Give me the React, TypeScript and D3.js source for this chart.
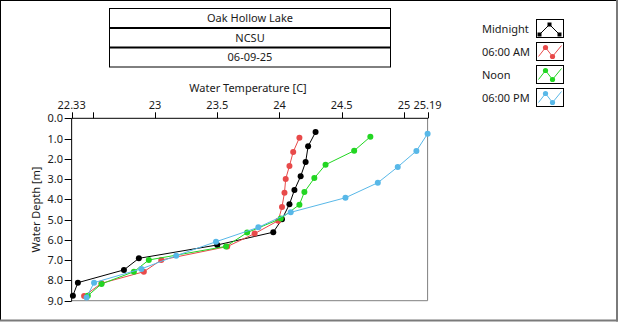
import React from "react";
import * as d3 from "d3";

const titleLines = ["Oak Hollow Lake", "NCSU", "06-09-25"];
const xAxisTitle = "Water Temperature [C]";
const yAxisTitle = "Water Depth [m]";
const xDomain = [22.33, 25.19];
const yDomain = [0, 9];
const xTickValues = [22.33, 22.5, 23, 23.5, 24, 24.5, 25, 25.19];
const xTickLabels = ["22.33", "", "23", "23.5", "24", "24.5", "25", "25.19"];
const yTickValues = [0, 1, 2, 3, 4, 5, 6, 7, 8, 9];

const seriesNames = ["Midnight", "06:00 AM", "Noon", "06:00 PM"];
const seriesColors = ["#000000", "#e84a4a", "#22d622", "#58b8e8"];

const midnightDepth = [0.68, 1.38, 2.16, 2.86, 3.54, 4.24, 4.98, 5.62, 6.25, 6.91, 7.48, 8.11, 8.75];
const midnightTemp = [24.29, 24.23, 24.21, 24.17, 24.12, 24.08, 24.02, 23.95, 23.5, 22.87, 22.75, 22.38, 22.34];

const sixAmDepth = [0.96, 1.66, 2.35, 2.99, 3.67, 4.38, 5.05, 5.69, 6.33, 6.99, 7.57, 8.14, 8.77];
const sixAmTemp = [24.16, 24.11, 24.08, 24.05, 24.04, 24.02, 23.99, 23.8, 23.58, 23.05, 22.91, 22.57, 22.43];

const noonDepth = [0.91, 1.6, 2.29, 2.95, 3.64, 4.26, 4.95, 5.64, 6.32, 6.99, 7.57, 8.17, 8.75];
const noonTemp = [24.73, 24.6, 24.37, 24.28, 24.2, 24.16, 24.01, 23.74, 23.57, 22.95, 22.83, 22.57, 22.46];

const sixPmDepth = [0.76, 1.61, 2.4, 3.18, 3.92, 4.64, 5.38, 6.09, 6.78, 7.43, 8.11, 8.84];
const sixPmTemp = [25.19, 25.1, 24.95, 24.79, 24.53, 24.09, 23.83, 23.49, 23.17, 22.89, 22.51, 22.45];

const seriesDepths = [midnightDepth, sixAmDepth, noonDepth, sixPmDepth];
const seriesTemps = [midnightTemp, sixAmTemp, noonTemp, sixPmTemp];

const FONT = "'Noto Sans', 'DejaVu Sans', sans-serif";
const TXT = "#1a1a1a";
const FS = 11;

export default function App() {
  const left = 71.65, right = 427.6, top = 118.3, bottom = 300.7;
  const x = d3.scaleLinear().domain(xDomain).range([left, right]);
  const y = d3.scaleLinear().domain(yDomain).range([top, bottom]);
  const line = d3.line<[number, number]>().x((d) => x(d[0])).y((d) => y(d[1]));

  const tbLeft = 109.5, tbRight = 390.5, tbTop = 8.5, rowH = 19.5;

  const legendX = 482, boxX = 536.5, boxW = 27, boxH = 18, legTop = 19.5, legStep = 23;

  return (
    <svg
      width={620}
      height={324}
      style={{ position: "absolute", left: 0, top: 0, background: "#fff" }}
      fontFamily={FONT}
    >
      {/* outer frame */}
      <line x1={0} y1={0.5} x2={617} y2={0.5} stroke="#000" />
      <line x1={0.5} y1={0} x2={0.5} y2={320} stroke="#000" />
      <line x1={617} y1={0} x2={617} y2={321.5} stroke="#7a7a7a" strokeWidth={2} />
      <line x1={0} y1={320.5} x2={618} y2={320.5} stroke="#7a7a7a" strokeWidth={2} />

      {/* title box */}
      <rect x={tbLeft} y={tbTop} width={tbRight - tbLeft} height={rowH * 3} fill="none" stroke="#000" strokeWidth={1} />
      {[1, 2].map((i) => (
        <line key={i} x1={tbLeft} x2={tbRight} y1={tbTop + rowH * i} y2={tbTop + rowH * i} stroke="#000" strokeWidth={2} />
      ))}
      {titleLines.map((t, i) => (
        <text key={t} x={(tbLeft + tbRight) / 2} y={tbTop + rowH * i + rowH / 2 + 4} textAnchor="middle" fontSize={FS} fill={TXT}>
          {t}
        </text>
      ))}

      {/* legend */}
      {seriesNames.map((name, i) => {
        const by = legTop + i * legStep;
        const c = seriesColors[i];
        const pts: [number, number][] =
          i === 0
            ? [[3, 15], [13, 5], [23, 15]]
            : [[2, 14], [9, 5], [16, 14], [25, 3]];
        const gl = d3.line<[number, number]>().x((d) => boxX + d[0]).y((d) => by + d[1]);
        return (
          <g key={name}>
            <text x={legendX} y={by + boxH / 2 + 4} fontSize={FS} fill={TXT}>
              {name}
            </text>
            <rect x={boxX} y={by} width={boxW} height={boxH} fill="#fff" stroke="#000" />
            <path d={gl(pts) || ""} fill="none" stroke={c} strokeWidth={1} />
            {(i === 0 ? pts : pts.slice(1, 3)).map((p, k) =>
              i === 0 ? (
                <rect key={k} x={boxX + p[0] - 2} y={by + p[1] - 2} width={4} height={4} fill={c} />
              ) : (
                <circle key={k} cx={boxX + p[0]} cy={by + p[1]} r={2.6} fill={c} />
              )
            )}
          </g>
        );
      })}

      {/* x axis title */}
      <text x={248} y={92} textAnchor="middle" fontSize={FS} fill={TXT}>
        {xAxisTitle}
      </text>

      {/* plot frame */}
      <line x1={right} x2={right} y1={top} y2={bottom} stroke="#808080" />
      <line x1={left} x2={right} y1={bottom} y2={bottom} stroke="#808080" />
      <line x1={left} x2={right + 0.5} y1={top} y2={top} stroke="#000" />
      <line x1={left} x2={left} y1={top} y2={bottom + 0.5} stroke="#000" />

      {/* x ticks */}
      {xTickValues.map((v, i) => (
        <g key={v}>
          <line x1={Math.round(x(v)) + 0.5} x2={Math.round(x(v)) + 0.5} y1={top - 6} y2={top} stroke="#000" />
          {xTickLabels[i] && (
            <text x={x(v)} y={109} textAnchor="middle" fontSize={FS} fill={TXT}>
              {xTickLabels[i]}
            </text>
          )}
        </g>
      ))}

      {/* y ticks */}
      {yTickValues.map((v) => (
        <g key={v}>
          <line x1={left - 7} x2={left} y1={Math.round(y(v)) + 0.5} y2={Math.round(y(v)) + 0.5} stroke="#000" />
          <text x={63} y={y(v) + 4} textAnchor="end" fontSize={FS} fill={TXT}>
            {d3.format(".1f")(v)}
          </text>
        </g>
      ))}

      <text
        transform={`translate(40, ${(top + bottom) / 2}) rotate(-90)`}
        textAnchor="middle"
        fontSize={FS}
        fill={TXT}
      >
        {yAxisTitle}
      </text>

      {/* series */}
      {seriesNames.map((name, i) => {
        const pts: [number, number][] = seriesTemps[i].map((t, k) => [t, seriesDepths[i][k]]);
        return (
          <g key={name}>
            <path d={line(pts) || ""} fill="none" stroke={seriesColors[i]} strokeWidth={1} />
            {pts.map((p, k) => (
              <circle key={k} cx={x(p[0])} cy={y(p[1])} r={3} fill={seriesColors[i]} />
            ))}
          </g>
        );
      })}
    </svg>
  );
}
